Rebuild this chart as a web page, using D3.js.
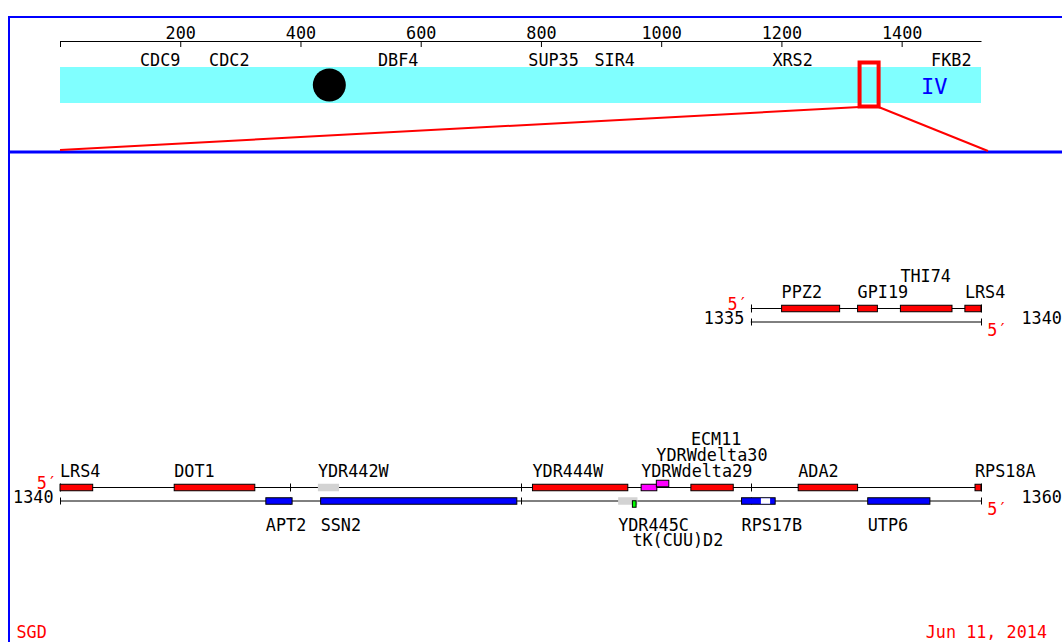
<!DOCTYPE html>
<html>
<head>
<meta charset="utf-8">
<script src="https://cdn.jsdelivr.net/npm/d3@7"></script>
<style>
  body { margin: 0; background: #fff; }
  svg text { font-family: "DejaVu Sans Mono", monospace; font-size: 16.8px; }
</style>
</head>
<body>
<svg id="map" width="1062" height="642"></svg>
<script>
// chromosome overview (kb)
const chromName = "IV";
const chromLengthKb = 1532;
const centromereKb = 448;
const axisTicks = [0, 200, 400, 600, 800, 1000, 1200, 1400];
const landmarkNames = ["CDC9", "CDC2", "DBF4", "SUP35", "SIR4", "XRS2", "FKB2"];
const landmarkKb = [133, 248, 529, 779, 889, 1185, 1449];
const zoomKb = [1335, 1360];

// detail rows (kb)
const rowStarts = [1335, 1340];
const rowEnds = [1340, 1360];

// features in the zoomed region
const geneNames = ["PPZ2", "GPI19", "THI74", "LRS4", "DOT1", "APT2", "YDR442W", "SSN2",
  "YDR444W", "YDR445C", "tK(CUU)D2", "YDRWdelta29", "YDRWdelta30", "ECM11", "RPS17B",
  "ADA2", "UTP6", "RPS18A"];
const geneStarts = [1335.67, 1337.32, 1338.25, 1339.65, 1342.48, 1344.47, 1345.60, 1345.66,
  1350.26, 1352.12, 1352.43, 1352.62, 1352.95, 1353.70, 1354.80,
  1356.03, 1357.54, 1359.87];
const geneEnds = [1336.93, 1337.75, 1339.37, 1340.71, 1344.23, 1345.04, 1346.06, 1349.92,
  1352.33, 1352.54, 1352.51, 1352.96, 1353.22, 1354.62, 1355.53,
  1357.32, 1358.89, 1360.40];
const geneStrands = ["W", "W", "W", "W", "W", "C", "W", "C",
  "W", "C", "C", "W", "W", "W", "C",
  "W", "C", "W"];
const geneTypes = ["orf", "orf", "orf", "orf", "orf", "orf", "dubious", "orf",
  "orf", "dubious", "trna", "ltr", "ltr", "orf", "orf",
  "orf", "orf", "orf"];
const intronGenes = ["RPS17B"];
const intronStarts = [1355.22];
const intronEnds = [1355.42];

const footLeft = "SGD";
const footRight = "Jun 11, 2014";

const svg = d3.select("#map");
const blue = "#0000ff", red = "#ff0000";

// frame
svg.append("path")
    .attr("d", "M9,642V17H1062")
    .attr("fill", "none")
    .attr("stroke", blue)
    .attr("stroke-width", 2);
svg.append("line")
    .attr("x1", 9).attr("x2", 1062)
    .attr("y1", 152).attr("y2", 152)
    .attr("stroke", blue)
    .attr("stroke-width", 3);

// ---- overview ----
const xo = d3.scaleLinear().domain([0, chromLengthKb]).range([60, 981]);

const axis = d3.axisBottom(xo)
    .tickValues(axisTicks)
    .tickSize(6)
    .tickSizeOuter(0)
    .tickFormat(d => d === 0 ? "" : d);
const gAxis = svg.append("g")
    .attr("transform", "translate(0,41)")
    .call(axis);
gAxis.selectAll("text").attr("y", -2).attr("dy", 0).attr("fill", "#000");

svg.append("rect")
    .attr("x", xo(0)).attr("y", 67)
    .attr("width", xo(chromLengthKb) - xo(0)).attr("height", 36)
    .attr("fill", "#80ffff");

svg.append("circle")
    .attr("cx", xo(centromereKb)).attr("cy", 85)
    .attr("r", 16.5)
    .attr("fill", "#000");

svg.append("text")
    .attr("x", 921).attr("y", 94)
    .attr("fill", blue)
    .style("font-size", "22px")
    .text(chromName);

svg.selectAll(".landmark")
    .data(landmarkNames)
    .enter()
    .append("text")
    .attr("class", "landmark")
    .attr("x", (d, i) => xo(landmarkKb[i]))
    .attr("y", 65.5)
    .text(d => d);

// zoom window and connectors
const zx0 = xo(zoomKb[0]) - 3, zx1 = xo(zoomKb[1]) + 1;
svg.append("rect")
    .attr("x", zx0).attr("y", 62.5)
    .attr("width", zx1 - zx0).attr("height", 44)
    .attr("fill", "none")
    .attr("stroke", red)
    .attr("stroke-width", 4);
svg.append("line")
    .attr("x1", zx0).attr("y1", 107).attr("x2", 60).attr("y2", 150)
    .attr("stroke", red).attr("stroke-width", 2);
svg.append("line")
    .attr("x1", zx1).attr("y1", 107).attr("x2", 988).attr("y2", 151)
    .attr("stroke", red).attr("stroke-width", 2);

// ---- detail rows ----
const pxPerKb = 46.05;
const rowTopY = [308.5, 487.5];
const strandGap = 13.5;

function boxColor(type, strand) {
    if (type === "dubious") return "#d3d3d3";
    if (type === "ltr") return "#ff00ff";
    if (type === "trna") return "#00ff00";
    return strand === "W" ? red : blue;
}

rowStarts.forEach(function (s, r) {
    const e = rowEnds[r];
    const x = d3.scaleLinear().domain([s, e]).range([981 - (e - s) * pxPerKb, 981]);
    const topY = rowTopY[r], botY = topY + strandGap;
    const g = svg.append("g");

    // strand lines
    [topY, botY].forEach(function (y) {
        g.append("line")
            .attr("x1", x(s)).attr("x2", x(e))
            .attr("y1", y).attr("y2", y)
            .attr("stroke", "#000");
    });
    const ticks = d3.range(s, e + 0.001, 5);
    g.selectAll(".tk")
        .data(ticks.flatMap(t => [[t, topY, 4], [t, botY, 3.5]]))
        .enter()
        .append("line")
        .attr("x1", d => Math.round(x(d[0])) + 0.5).attr("x2", d => Math.round(x(d[0])) + 0.5)
        .attr("y1", d => d[1] - d[2]).attr("y2", d => d[1] + d[2])
        .attr("stroke", "#000");

    // features of this row
    const feats = geneNames.map((n, i) => ({
        name: n,
        start: Math.max(s, geneStarts[i]),
        end: Math.min(e, geneEnds[i]),
        strand: geneStrands[i],
        type: geneTypes[i]
    })).filter(f => f.end > f.start).sort((a, b) => a.start - b.start);

    const lastEnd = { W: -Infinity, C: -Infinity };
    const levels = { W: [], C: [] };
    feats.forEach(function (f) {
        f.offset = f.start < lastEnd[f.strand] ? (f.strand === "W" ? -4 : 3) : 0;
        lastEnd[f.strand] = Math.max(lastEnd[f.strand], f.end);
        const lx = x(f.start), lw = f.name.length * 10.1;
        const lv = levels[f.strand];
        let k = 0;
        while (k < lv.length && lx < lv[k] + 4) k++;
        lv[k] = lx + lw;
        f.level = k;
    });

    feats.forEach(function (f) {
        const y = f.strand === "W" ? topY : botY;
        const grey = f.type === "dubious";
        g.append("rect")
            .attr("x", x(f.start))
            .attr("y", y + f.offset - (grey ? 3.75 : 3.25))
            .attr("width", x(f.end) - x(f.start))
            .attr("height", grey ? 7.5 : 6.5)
            .attr("fill", boxColor(f.type, f.strand))
            .attr("stroke", grey ? "none" : "#000")
            .attr("stroke-width", 1);
        intronGenes.forEach(function (gname, j) {
            if (gname !== f.name) return;
            g.append("rect")
                .attr("x", x(intronStarts[j]))
                .attr("y", y + f.offset - 2.75)
                .attr("width", x(intronEnds[j]) - x(intronStarts[j]))
                .attr("height", 5.5)
                .attr("fill", "#fff");
        });
        g.append("text")
            .attr("x", x(f.start))
            .attr("y", f.strand === "W" ? topY - 10.5 - f.level * 16 : botY + 30 + f.level * 14.5)
            .text(f.name);
    });

    // coordinates and 5' ends
    g.append("text")
        .attr("x", x(s) - 6.5).attr("y", botY + 2)
        .attr("text-anchor", "end")
        .text(s);
    g.append("text")
        .attr("x", x(e) + 40.5).attr("y", botY + 2)
        .text(e);
    g.append("text")
        .attr("x", x(s) - 3).attr("y", topY + 1)
        .attr("text-anchor", "end")
        .attr("fill", red)
        .text("5\u2032");
    g.append("text")
        .attr("x", x(e) + 6.3).attr("y", botY + 13.5)
        .attr("fill", red)
        .text("5\u2032");
});

// footer
svg.append("text")
    .attr("x", 16.5).attr("y", 638)
    .attr("fill", red)
    .text(footLeft);
svg.append("text")
    .attr("x", 1047).attr("y", 638)
    .attr("text-anchor", "end")
    .attr("fill", red)
    .text(footRight);
</script>
</body>
</html>
